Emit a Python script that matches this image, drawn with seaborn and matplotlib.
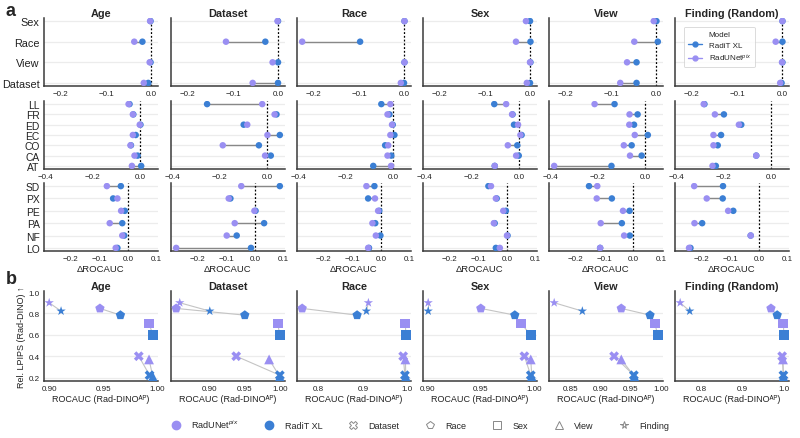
import numpy as np
import pandas as pd
import matplotlib
matplotlib.use("Agg")
import matplotlib.pyplot as plt
from matplotlib.lines import Line2D
import seaborn as sns

# Estilo
sns.set_theme(style="white")
plt.rcParams['font.family'] = ['Liberation Sans', 'DejaVu Sans']
plt.rcParams['mathtext.fontset'] = 'custom'
plt.rcParams['mathtext.rm'] = 'Liberation Sans'
plt.rcParams['mathtext.it'] = 'Liberation Sans:italic'

PURPLE = "#9a8ff2"
BLUE = "#3b7fd4"
RADIT = "RadiT XL"
RADUNET = "RadUNet$^{pix}$"

panels = ["Age", "Dataset", "Race", "Sex", "View", "Finding (Random)"]

# ---- Painel a: dados (ΔROCAUC) ----
row1_labels = ["Sex", "Race", "View", "Dataset"]
row2_labels = ["LL", "FR", "ED", "EC", "CO", "CA", "AT"]
row3_labels = ["SD", "PX", "PE", "PA", "NF", "LO"]

row1_radunet = {
    "Age": [-0.003, -0.038, -0.004, -0.017],
    "Dataset": [-0.002, -0.116, -0.013, -0.057],
    "Race": [0.000, -0.226, 0.000, -0.008],
    "Sex": [-0.010, -0.032, -0.001, -0.008],
    "View": [-0.006, -0.049, -0.065, -0.080],
    "Finding (Random)": [0.000, -0.015, -0.001, -0.005],
}
row1_radit = {
    "Age": [-0.002, -0.020, -0.002, -0.007],
    "Dataset": [-0.001, -0.029, -0.001, -0.001],
    "Race": [0.000, -0.098, 0.000, -0.001],
    "Sex": [-0.001, 0.000, 0.000, -0.001],
    "View": [0.000, 0.003, -0.044, -0.044],
    "Finding (Random)": [0.000, 0.000, 0.000, -0.002],
}
row2_radunet = {
    "Age": [-0.050, -0.032, -0.003, -0.032, -0.042, -0.025, -0.036],
    "Dataset": [-0.022, 0.030, -0.085, 0.000, -0.188, -0.010, np.nan],
    "Race": [-0.013, -0.025, -0.006, -0.013, -0.022, -0.025, -0.010],
    "Sex": [-0.056, -0.031, -0.006, 0.004, -0.049, -0.014, -0.104],
    "View": [-0.214, -0.067, -0.068, -0.045, -0.091, -0.065, -0.384],
    "Finding (Random)": [-0.285, -0.238, -0.137, -0.244, -0.244, -0.064, -0.248],
}
row2_radit = {
    "Age": [-0.046, -0.030, 0.000, -0.020, -0.040, -0.012, 0.003],
    "Dataset": [-0.254, 0.038, -0.100, 0.052, -0.036, 0.014, np.nan],
    "Race": [-0.051, -0.017, -0.003, 0.004, -0.035, -0.009, -0.085],
    "Sex": [-0.106, -0.029, -0.023, 0.009, -0.009, -0.003, -0.104],
    "View": [-0.130, -0.033, -0.048, 0.010, -0.058, -0.016, -0.143],
    "Finding (Random)": [-0.282, -0.200, -0.127, -0.212, -0.226, -0.064, -0.234],
}
row3_radunet = {
    "Age": [-0.074, -0.037, -0.024, -0.064, -0.020, -0.043],
    "Dataset": [-0.048, -0.092, -0.002, -0.071, -0.099, -0.276],
    "Race": [-0.051, -0.021, -0.010, -0.030, -0.018, -0.045],
    "Sex": [-0.056, -0.039, -0.013, -0.046, 0.000, -0.025],
    "View": [-0.125, -0.127, -0.035, -0.113, -0.031, -0.115],
    "Finding (Random)": [-0.227, -0.183, -0.108, -0.226, -0.029, -0.245],
}
row3_radit = {
    "Age": [-0.025, -0.052, -0.011, -0.020, -0.013, -0.037],
    "Dataset": [0.087, -0.086, 0.002, 0.032, -0.064, -0.014],
    "Race": [-0.023, -0.045, -0.006, -0.020, -0.002, -0.042],
    "Sex": [-0.065, -0.036, -0.004, -0.043, 0.002, -0.039],
    "View": [-0.154, -0.074, -0.012, -0.039, -0.011, -0.115],
    "Finding (Random)": [-0.126, -0.127, -0.090, -0.199, -0.029, -0.240],
}

# ---- Painel b: dados (ROCAUC vs LPIPS) ----
attrs = ["Dataset", "Race", "Sex", "View", "Finding"]
lpips_radunet = [0.40, 0.847, 0.706, 0.37, 0.90]
lpips_radit = [0.222, 0.784, 0.597, 0.209, 0.822]
roc_radunet = {
    "Age": [0.983, 0.947, 0.9926, 0.9925, 0.900],
    "Dataset": [0.938, 0.854, 0.996, 0.984, 0.859],
    "Race": [0.991, 0.763, 0.996, 0.996, 0.9125],
    "Sex": [0.991, 0.950, 0.988, 0.997, 0.9005],
    "View": [0.922, 0.934, 0.990, 0.934, 0.822],
    "Finding (Random)": [0.995, 0.968, 0.998, 0.997, 0.749],
}
roc_radit = {
    "Age": [0.993, 0.966, 0.996, 0.996, 0.911],
    "Dataset": [0.999, 0.950, 0.999, 0.999, 0.901],
    "Race": [0.995, 0.887, 0.997, 0.997, 0.908],
    "Sex": [0.997, 0.982, 0.997, 0.998, 0.9005],
    "View": [0.955, 0.982, 0.995, 0.956, 0.869],
    "Finding (Random)": [0.998, 0.983, 0.999, 0.998, 0.772],
}
b_ticks = {
    "Age": [0.90, 0.95, 1.00],
    "Dataset": [0.90, 0.95, 1.00],
    "Race": [0.8, 0.9, 1.0],
    "Sex": [0.90, 0.95, 1.00],
    "View": [0.85, 0.90, 0.95, 1.00],
    "Finding (Random)": [0.8, 0.9, 1.0],
}

W, H = 800, 439
fig = plt.figure(figsize=(8, 4.39), dpi=100)


def rect(left, top, width, height):
    return [left / W, 1 - (top + height) / H, width / W, height / H]


col_left = [44, 171, 297, 423, 549, 675]
col_w = 114
rows_a = [
    (19, row1_labels, row1_radunet, row1_radit, [-0.2, -0.1, 0.0]),
    (102, row2_labels, row2_radunet, row2_radit, [-0.4, -0.2, 0.0]),
    (184, row3_labels, row3_radunet, row3_radit, [-0.2, -0.1, 0.0, 0.1]),
]
SPINE = "#3a3a3a"


def style_axes(ax):
    for s in ["top", "right"]:
        ax.spines[s].set_visible(False)
    for s in ["left", "bottom"]:
        ax.spines[s].set_color(SPINE)
        ax.spines[s].set_linewidth(1.1)
    ax.tick_params(axis="both", colors=SPINE, labelcolor="#222222", labelsize=5.8,
                   length=2, width=0.8, pad=1)


for r, (top, labels, d_unet, d_radit, xt) in enumerate(rows_a):
    first = None
    for c, panel in enumerate(panels):
        ax = fig.add_axes(rect(col_left[c], top, col_w, 68), sharex=first)
        if first is None:
            first = ax
        pos = np.arange(len(labels))
        df = pd.concat([
            pd.DataFrame({"pos": pos, "delta": d_radit[panel], "model": RADIT}),
            pd.DataFrame({"pos": pos, "delta": d_unet[panel], "model": RADUNET}),
        ]).dropna()
        for p in pos:
            ax.axhline(p, color="#ececec", lw=0.9, zorder=0)
        ax.hlines(pos, d_unet[panel], d_radit[panel], color="#888888", lw=1.0, zorder=1)
        ax.axvline(0, color="black", ls=(0, (1.5, 1.5)), lw=0.9, zorder=1)
        sns.scatterplot(data=df, x="delta", y="pos", hue="model", hue_order=[RADIT, RADUNET],
                        palette=[BLUE, PURPLE], s=22, linewidth=0, legend=False, ax=ax, zorder=3)
        style_axes(ax)
        ax.set_ylim(len(labels) - 1 + 0.05 * (len(labels) - 1), -0.05 * (len(labels) - 1))
        ax.set_yticks(pos)
        if c == 0:
            ax.set_yticklabels(labels, fontsize=7.8 if r == 0 else 7.4)
        else:
            ax.set_yticklabels([])
            ax.tick_params(axis="y", length=0)
        ax.set_xticks(xt)
        ax.set_ylabel("")
        if r == 2:
            ax.set_xlabel("ΔROCAUC", fontsize=6.8, labelpad=1, color="#222222")
        else:
            ax.set_xlabel("")
        if r == 0:
            ax.set_title(panel, fontsize=7.8, fontweight="bold", pad=1.5)
        if r == 0 and c == 5:
            handles = [Line2D([0], [0], color=BLUE, marker="o", ms=3.5, lw=1),
                       Line2D([0], [0], color=PURPLE, marker="o", ms=3.5, lw=1)]
            leg = ax.legend(handles, [RADIT, RADUNET], title="Model", fontsize=5.8,
                            title_fontsize=5.8, loc="upper left", bbox_to_anchor=(0.04, 0.93),
                            frameon=True, handlelength=1.8, borderpad=0.5, labelspacing=0.4)
            leg.get_frame().set_edgecolor("#cccccc")
            leg.get_frame().set_linewidth(0.6)

# ---- Painel b ----
markers = {"Dataset": "X", "Race": "p", "Sex": "s", "View": "^", "Finding": "*"}
for c, panel in enumerate(panels):
    ax = fig.add_axes(rect(col_left[c], 292, col_w, 90))
    df = pd.concat([
        pd.DataFrame({"roc": roc_radit[panel], "lpips": lpips_radit, "attr": attrs, "model": RADIT}),
        pd.DataFrame({"roc": roc_radunet[panel], "lpips": lpips_radunet, "attr": attrs, "model": RADUNET}),
    ])
    for yv in [0.2, 0.4, 0.6, 0.8]:
        ax.axhline(yv, color="#ececec", lw=0.9, zorder=0)
    for i in range(len(attrs)):
        ax.plot([roc_radunet[panel][i], roc_radit[panel][i]], [lpips_radunet[i], lpips_radit[i]],
                color="#c4c4c4", lw=0.8, zorder=1)
    sns.scatterplot(data=df, x="roc", y="lpips", hue="model", hue_order=[RADIT, RADUNET],
                    palette=[BLUE, PURPLE], style="attr", markers=markers, s=50,
                    linewidth=0, legend=False, ax=ax, zorder=3)
    style_axes(ax)
    ax.set_ylim(0.168, 1.01)
    ax.set_yticks([0.2, 0.4, 0.6, 0.8, 1.0])
    ax.set_xticks(b_ticks[panel])
    ax.set_title(panel, fontsize=7.8, fontweight="bold", pad=1.5)
    ax.set_xlabel("ROCAUC (Rad-DINO\u1d2c\u1d3e)", fontsize=6.5, labelpad=1.5, color="#222222")
    if c == 0:
        ax.set_ylabel("Rel. LPIPS (Rad-DINO) ↑", fontsize=6.5, labelpad=2, color="#222222")
    else:
        ax.set_ylabel("")
        ax.set_yticklabels([])

fig.text(6 / W, 1 - 11 / H, "a", fontsize=13, fontweight="bold", va="center")
fig.text(6 / W, 1 - 280 / H, "b", fontsize=13, fontweight="bold", va="center")

# Legenda inferior
leg_handles = [
    Line2D([0], [0], ls="", marker="o", ms=6, color=PURPLE),
    Line2D([0], [0], ls="", marker="o", ms=6, color=BLUE),
]
leg_labels = [RADUNET, RADIT]
for a in attrs:
    leg_handles.append(Line2D([0], [0], ls="", marker=markers[a], ms=5.5, markerfacecolor="none",
                              markeredgecolor="#888888", markeredgewidth=0.7))
    leg_labels.append(a)
fig.legend(leg_handles, leg_labels, loc="center", bbox_to_anchor=(0.525, 14 / H), ncol=7,
           frameon=False, fontsize=6.5, handlelength=1.2, handletextpad=1.1, columnspacing=2.8)

fig.savefig("out.png", dpi=100)
